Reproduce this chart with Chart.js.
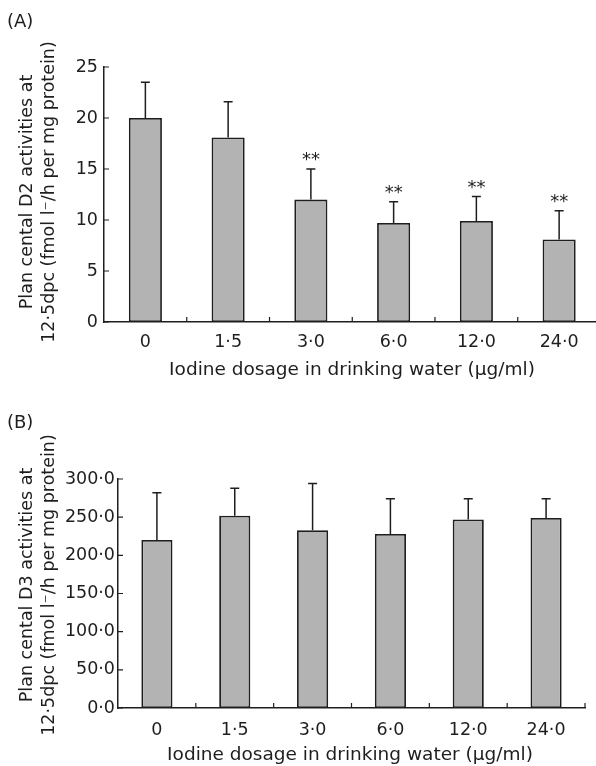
<!DOCTYPE html>
<html>
<head>
<meta charset="utf-8">
<script src="https://cdn.jsdelivr.net/npm/chart.js@4.4.0/dist/chart.umd.min.js"></script>
<style>
html, body { margin: 0; padding: 0; background: #fff; overflow: hidden; width: 596px; height: 766px; }
#wrapA { position: absolute; left: 0; top: 0; }
#wrapB { position: absolute; left: 0; top: 380px; }
</style>
</head>
<body>
<div id="wrapA"><canvas id="chartA" width="610" height="380"></canvas></div>
<div id="wrapB"><canvas id="chartB" width="596" height="386"></canvas></div>
<script>
// doses (ug/ml)
var doses = ['0', '1·5', '3·0', '6·0', '12·0', '24·0'];

// (A) D2 activity, mean and SD
var d2Mean = [20.0, 18.1, 12.0, 9.7, 9.9, 8.1];
var d2Sd = [3.5, 3.5, 3.0, 2.1, 2.4, 2.8];
var d2Stars = ['', '', '**', '**', '**', '**'];
var d2Ticks = [0, 5, 10, 15, 20, 25];

// (B) D3 activity, mean and SD
var d3Mean = [220, 252, 233, 228, 247, 249];
var d3Sd = [62, 36, 61, 46, 27, 25];
var d3Ticks = [0, 50, 100, 150, 200, 250, 300];

var xTitle = 'Iodine dosage in drinking water (\u03bcg/ml)';
var ink = '#1e1e1e';
var fontFam = '"DejaVu Sans", sans-serif';

function dot(v, dec) {
  return v.toFixed(dec).replace('.', '\u00b7');
}

var errorBars = {
  id: 'errorBars',
  afterDatasetsDraw: function(chart, args, opts) {
    var ctx = chart.ctx;
    var meta = chart.getDatasetMeta(0);
    var y = chart.scales.y;
    ctx.save();
    ctx.strokeStyle = ink;
    ctx.lineWidth = 1.5;
    meta.data.forEach(function(bar, i) {
      var top = y.getPixelForValue(opts.mean[i] + opts.sd[i]);
      ctx.beginPath();
      ctx.moveTo(bar.x, bar.y);
      ctx.lineTo(bar.x, top);
      ctx.moveTo(bar.x - 4.5, top);
      ctx.lineTo(bar.x + 4.5, top);
      ctx.stroke();
      if (opts.stars && opts.stars[i]) {
        ctx.fillStyle = ink;
        ctx.font = '18px ' + fontFam;
        ctx.textAlign = 'center';
        ctx.textBaseline = 'alphabetic';
        ctx.fillText(opts.stars[i], bar.x, top - 4);
      }
    });
    ctx.restore();
  }
};

var decor = {
  id: 'decor',
  afterDraw: function(chart, args, opts) {
    var ctx = chart.ctx, x = chart.scales.x, y = chart.scales.y, a = chart.chartArea;
    ctx.save();
    // inward ticks
    ctx.strokeStyle = ink;
    ctx.lineWidth = 1.2;
    ctx.beginPath();
    var n = x.ticks.length;
    for (var i = 1; i <= n; i++) {
      var px = i < n ? (x.getPixelForTick(i - 1) + x.getPixelForTick(i)) / 2 : a.right;
      ctx.moveTo(px, a.bottom);
      ctx.lineTo(px, a.bottom - 5);
    }
    y.ticks.forEach(function(t) {
      var py = y.getPixelForValue(t.value);
      ctx.moveTo(a.left, py);
      ctx.lineTo(a.left + 5, py);
    });
    ctx.stroke();

    ctx.fillStyle = ink;
    ctx.textBaseline = 'alphabetic';
    // panel letter
    ctx.textAlign = 'left';
    ctx.font = '18px ' + fontFam;
    ctx.fillText(opts.panel, 7, opts.panelY);
    // x title
    ctx.textAlign = 'center';
    ctx.font = '18.5px ' + fontFam;
    ctx.fillText(xTitle, opts.xTitleX, opts.xTitleY);
    // y title, two rotated lines
    ctx.font = opts.yTitleSize + 'px ' + fontFam;
    opts.yTitle.forEach(function(line, k) {
      ctx.save();
      ctx.translate(opts.yTitleX[k], opts.yTitleCy);
      ctx.rotate(-Math.PI / 2);
      ctx.fillText(line, 0, 0);
      ctx.restore();
    });
    ctx.restore();
  }
};

function makeChart(id, mean, ticks, dec, box, extra) {
  return new Chart(document.getElementById(id), {
    type: 'bar',
    data: {
      labels: doses,
      datasets: [{
        data: mean,
        backgroundColor: '#b3b3b3',
        borderColor: ink,
        borderWidth: 1.8,
        borderSkipped: false,
        barPercentage: 0.4,
        categoryPercentage: 1.0
      }]
    },
    options: {
      responsive: false,
      animation: false,
      layout: { padding: { top: box.top, right: box.right, left: 0, bottom: 0 } },
      plugins: {
        legend: { display: false },
        tooltip: { enabled: false },
        errorBars: extra.err,
        decor: extra.decor
      },
      scales: {
        x: {
          grid: { display: false, drawTicks: false },
          border: { display: true, color: ink, width: 1.5 },
          ticks: { color: ink, font: { family: fontFam, size: 17.5 }, padding: box.xpad, maxRotation: 0 },
          afterFit: function(s) { s.height = box.xh; }
        },
        y: {
          min: ticks[0],
          max: ticks[ticks.length - 1],
          grid: { display: false, drawTicks: false },
          border: { display: true, color: ink, width: 1.5 },
          afterBuildTicks: function(s) { s.ticks = ticks.map(function(v) { return { value: v }; }); },
          ticks: {
            color: ink,
            font: { family: fontFam, size: 17.5 },
            padding: box.ypad,
            callback: function(v) { return dec ? dot(v, dec) : String(v); }
          },
          afterFit: function(s) { s.width = box.yw; }
        }
      }
    },
    plugins: [errorBars, decor]
  });
}

makeChart('chartA', d2Mean, d2Ticks, 0,
  { top: 67, right: 9.5, xh: 58, yw: 104, ypad: 6, xpad: 10 },
  {
    err: { mean: d2Mean, sd: d2Sd, stars: d2Stars },
    decor: {
      panel: '(A)', panelY: 27,
      xTitleX: 352, xTitleY: 375,
      yTitle: ['Plan cental D2 activities at', '12\u00b75dpc (fmol l\u207b/h per mg protein)'],
      yTitleSize: 17.5, yTitleX: [32, 54], yTitleCy: 192
    }
  });

makeChart('chartB', d3Mean, d3Ticks, 1,
  { top: 99, right: 11, xh: 58, yw: 118, ypad: 3, xpad: 12 },
  {
    err: { mean: d3Mean, sd: d3Sd, stars: null },
    decor: {
      panel: '(B)', panelY: 48,
      xTitleX: 350, xTitleY: 380,
      yTitle: ['Plan cental D3 activities at', '12\u00b75dpc (fmol l\u207b/h per mg protein)'],
      yTitleSize: 17.5, yTitleX: [32, 54], yTitleCy: 205
    }
  });
</script>
</body>
</html>
